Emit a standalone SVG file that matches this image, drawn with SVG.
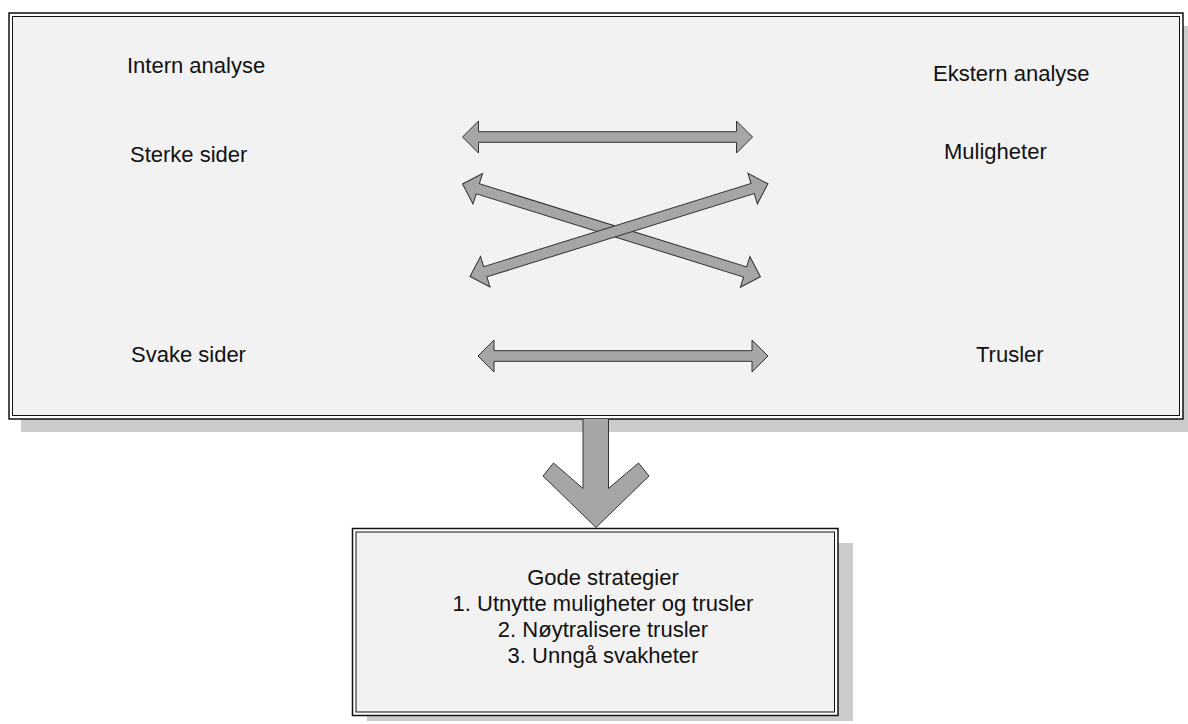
<svg xmlns="http://www.w3.org/2000/svg" width="1188" height="724" viewBox="0 0 1188 724">
  <defs>
    <style>
      .lbl { font-family: "Liberation Sans", Arial, sans-serif; font-size: 22px; fill: #111; }
      .mid { text-anchor: middle; }
      .panel { fill: #f2f2f2; }
      .shadow { fill: #cccccc; }
      .frame { fill: none; stroke: #111; }
      .arrow { fill: #a6a6a6; stroke: #333; stroke-width: 1; stroke-linejoin: miter; }
    </style>
    <!-- double-headed arrow, 0..L along x, centred on y=0 (L = 290) -->
    <path id="dbl290" d="M0,0 L16,-16 L16,-5.3 L274,-5.3 L274,-16 L290,0 L274,16 L274,5.3 L16,5.3 L16,16 Z"/>
    <path id="dbl312" d="M0,0 L16,-16 L16,-5.3 L296,-5.3 L296,-16 L312,0 L296,16 L296,5.3 L16,5.3 L16,16 Z"/>
  </defs>

  <rect width="1188" height="724" fill="#ffffff"/>

  <!-- analysis panel -->
  <g id="analysis-panel">
    <rect class="shadow" x="21" y="26" width="1180" height="406"/>
    <rect x="9" y="13" width="1174" height="406" fill="#ffffff" stroke="#111" stroke-width="1.5"/>
    <rect class="panel" x="12.5" y="16.5" width="1167" height="399"/>
    <rect class="frame" x="12.5" y="16.5" width="1167" height="399" stroke-width="1"/>
  </g>

  <g id="intern-analyse"><text class="lbl" x="127" y="73">Intern analyse</text></g>
  <g id="ekstern-analyse"><text class="lbl" x="933" y="81">Ekstern analyse</text></g>
  <g id="sterke-sider"><text class="lbl" x="130" y="162">Sterke sider</text></g>
  <g id="muligheter"><text class="lbl" x="944" y="159">Muligheter</text></g>
  <g id="svake-sider"><text class="lbl" x="131" y="362">Svake sider</text></g>
  <g id="trusler"><text class="lbl" x="976" y="362">Trusler</text></g>

  <!-- connectors -->
  <g id="connectors">
    <use href="#dbl290" class="arrow" transform="translate(462.5,137)"/>
    <use href="#dbl290" class="arrow" transform="translate(478,356)"/>
    <use href="#dbl312" class="arrow" transform="translate(462.5,184) rotate(17.28)"/>
    <use href="#dbl312" class="arrow" transform="translate(470,276.5) rotate(-17.28)"/>
    <!-- down arrow from panel to strategy box -->
    <path class="arrow" d="M583,419 L583,488.5 L553.5,463 L543,476 L596,527.5 L649,476 L638.5,463 L608.5,488.5 L608.5,419"/>
  </g>

  <!-- strategy box -->
  <g id="strategier">
    <rect class="shadow" x="367" y="543" width="486" height="178"/>
    <rect x="352.5" y="528.5" width="485.5" height="187" fill="#ffffff" stroke="#111" stroke-width="1.5"/>
    <rect class="panel" x="356" y="532" width="478.5" height="180"/>
    <rect class="frame" x="356" y="532" width="478.5" height="180" stroke-width="1"/>
    <text class="lbl mid" x="603" y="585">Gode strategier</text>
    <text class="lbl mid" x="603" y="611">1. Utnytte muligheter og trusler</text>
    <text class="lbl mid" x="603" y="637">2. Nøytralisere trusler</text>
    <text class="lbl mid" x="603" y="663">3. Unngå svakheter</text>
  </g>
</svg>
